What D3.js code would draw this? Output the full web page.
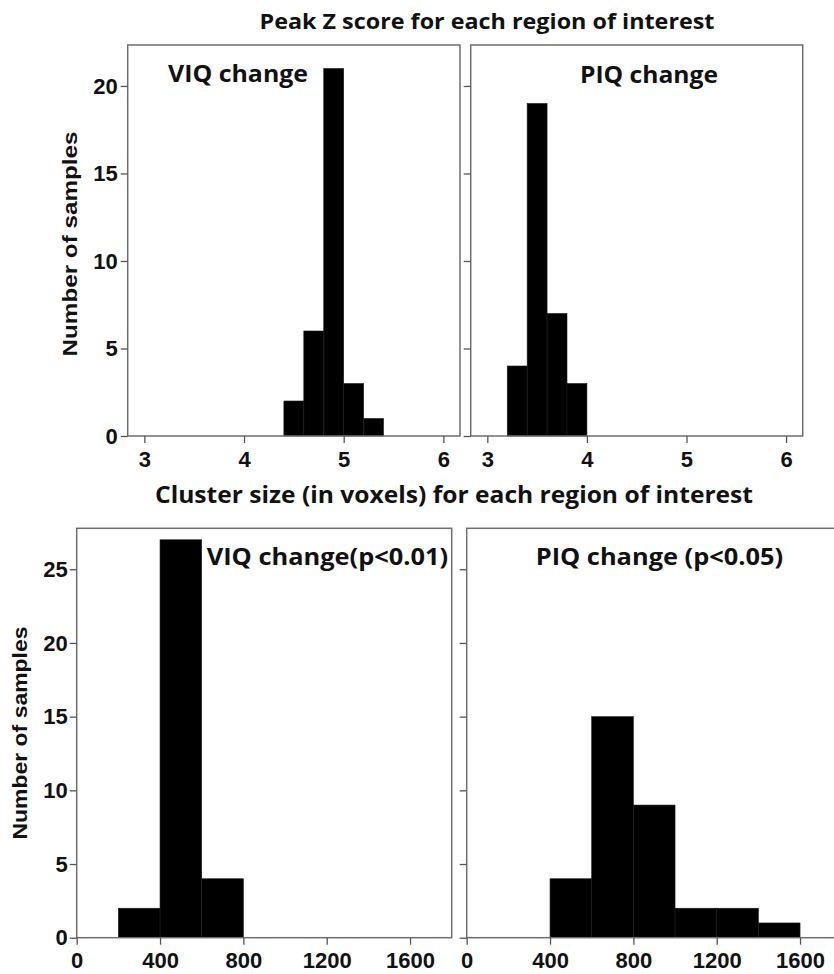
<!DOCTYPE html>
<html>
<head>
<meta charset="utf-8">
<script src="https://cdn.jsdelivr.net/npm/d3@7"></script>
<style>
  html, body { margin: 0; padding: 0; background: #fff; }
  svg { display: block; }
  .tick text { font-family: "Liberation Sans", Arial, sans-serif; font-weight: bold; font-size: 22px; fill: #111; }
  .tick line { stroke: #555; stroke-width: 1.3; }
  .title { font-family: "Open Sans", Lato, sans-serif; font-weight: bold; fill: #111; }
  .ylab { font-family: "Liberation Sans", Arial, sans-serif; font-weight: bold; fill: #111; }
</style>
</head>
<body>
<script>
// Histogram counts: peak Z score per region of interest
const peakZ_VIQ_binStart = [4.4, 4.6, 4.8, 5.0, 5.2];
const peakZ_VIQ_count    = [2, 6, 21, 3, 1];
const peakZ_PIQ_binStart = [3.2, 3.4, 3.6, 3.8];
const peakZ_PIQ_count    = [4, 19, 7, 3];
const peakZBinWidth = 0.2;

// Histogram counts: cluster size (voxels) per region of interest
const cluster_VIQ_binStart = [200, 400, 600];
const cluster_VIQ_count    = [2, 27, 4];
const cluster_PIQ_binStart = [400, 600, 800, 1000, 1200, 1400];
const cluster_PIQ_count    = [4, 15, 9, 2, 2, 1];
const clusterBinWidth = 200;

// Axis ticks
const peakZTicksX   = [3, 4, 5, 6];
const peakZTicksY   = [0, 5, 10, 15, 20];
const clusterTicksX = [0, 400, 800, 1200, 1600];
const clusterTicksY = [0, 5, 10, 15, 20, 25];

// Text
const titleTop    = "Peak Z score for each region of interest";
const titleBottom = "Cluster size (in voxels) for each region of interest";
const yAxisTitle  = "Number of samples";
const panelLabels = ["VIQ change", "PIQ change", "VIQ change(p<0.01)", "PIQ change (p<0.05)"];

const W = 834, H = 974;
const svg = d3.select("body").append("svg").attr("width", W).attr("height", H);

function panel(opt) {
  const x = d3.scaleLinear().domain(opt.xDomain).range([opt.x0, opt.x1]);
  const y = d3.scaleLinear().domain(opt.yDomain).range([opt.y1, opt.y0]);
  const g = svg.append("g");

  // bars
  g.selectAll("rect.bar")
    .data(opt.starts.map((s, i) => ({ s, c: opt.counts[i] })))
    .join("rect")
    .attr("class", "bar")
    .attr("x", d => x(d.s))
    .attr("width", d => x(d.s + opt.binWidth) - x(d.s))
    .attr("y", d => y(d.c))
    .attr("height", d => y(0) - y(d.c))
    .attr("fill", "#000")
    .attr("stroke", "#1c1c1c")
    .attr("stroke-width", 0.6);

  // frame
  g.append("rect")
    .attr("x", opt.x0).attr("y", opt.y0)
    .attr("width", opt.x1 - opt.x0).attr("height", opt.y1 - opt.y0)
    .attr("fill", "none").attr("stroke", "#6e6e6e").attr("stroke-width", 1.5);

  // axes
  const ax = g.append("g").attr("transform", `translate(0,${opt.y1})`)
    .call(d3.axisBottom(x).tickValues(opt.ticksX).tickSize(7).tickPadding(8).tickFormat(d3.format("d")));
  ax.select(".domain").remove();

  const ay = g.append("g").attr("transform", `translate(${opt.x0},0)`)
    .call(d3.axisLeft(y).tickValues(opt.ticksY).tickSize(7).tickPadding(opt.yPad).tickFormat(opt.showY ? d3.format("d") : ""));
  ay.select(".domain").remove();

  // panel label
  g.append("text").attr("class", "title")
    .attr("x", opt.lx).attr("y", opt.ly)
    .attr("font-size", 23)
    .attr("textLength", opt.lw).attr("lengthAdjust", "spacingAndGlyphs")
    .text(opt.label);
}

// Peak Z score panels
panel({ x0: 127.7, x1: 460, y0: 45, y1: 436, xDomain: [2.833, 6.167], yDomain: [0, 22.34],
  starts: peakZ_VIQ_binStart, counts: peakZ_VIQ_count, binWidth: peakZBinWidth,
  ticksX: peakZTicksX, ticksY: peakZTicksY, showY: true, yPad: 3,
  label: panelLabels[0], lx: 168, ly: 82, lw: 140 });
panel({ x0: 470.7, x1: 802.7, y0: 45, y1: 436, xDomain: [2.833, 6.167], yDomain: [0, 22.34],
  starts: peakZ_PIQ_binStart, counts: peakZ_PIQ_count, binWidth: peakZBinWidth,
  ticksX: peakZTicksX, ticksY: peakZTicksY, showY: false, yPad: 3,
  label: panelLabels[1], lx: 580, ly: 82.5, lw: 138 });

// Cluster size panels
panel({ x0: 76.7, x1: 451.7, y0: 528.3, y1: 937.7, xDomain: [0, 1800], yDomain: [0, 27.78],
  starts: cluster_VIQ_binStart, counts: cluster_VIQ_count, binWidth: clusterBinWidth,
  ticksX: clusterTicksX, ticksY: clusterTicksY, showY: true, yPad: 2,
  label: panelLabels[2], lx: 206.7, ly: 565, lw: 241.5 });
panel({ x0: 466.7, x1: 841.7, y0: 528.3, y1: 937.7, xDomain: [0, 1800], yDomain: [0, 27.78],
  starts: cluster_PIQ_binStart, counts: cluster_PIQ_count, binWidth: clusterBinWidth,
  ticksX: clusterTicksX, ticksY: clusterTicksY, showY: false, yPad: 2,
  label: panelLabels[3], lx: 535.7, ly: 565, lw: 247.5 });

// Section titles
svg.append("text").attr("class", "title")
  .attr("x", 487).attr("y", 29).attr("text-anchor", "middle")
  .attr("font-size", 22)
  .attr("textLength", 455).attr("lengthAdjust", "spacingAndGlyphs")
  .text(titleTop);
svg.append("text").attr("class", "title")
  .attr("x", 454).attr("y", 503).attr("text-anchor", "middle")
  .attr("font-size", 23)
  .attr("textLength", 598).attr("lengthAdjust", "spacingAndGlyphs")
  .text(titleBottom);

// Y axis titles
[[77, 244, 225], [27, 733, 213]].forEach(([bx, cy, len]) => {
  svg.append("text").attr("class", "ylab")
    .attr("transform", `translate(${bx},${cy}) rotate(-90)`)
    .attr("text-anchor", "middle")
    .attr("font-size", 20)
    .attr("textLength", len).attr("lengthAdjust", "spacingAndGlyphs")
    .text(yAxisTitle);
});
</script>
</body>
</html>
